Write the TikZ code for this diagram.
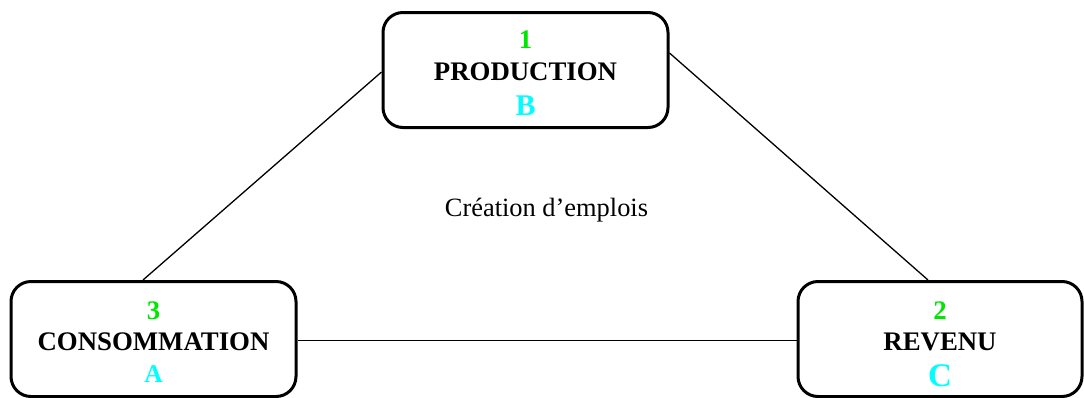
\documentclass[tikz,border=0pt]{standalone}
\usepackage{fontspec}
\setmainfont{Liberation Serif}
\definecolor{numgreen}{RGB}{0,230,0}
\definecolor{lettercyan}{RGB}{0,255,255}
\begin{document}
\begin{tikzpicture}[x=1pt,y=-1pt,
  stagebox/.style={draw,line width=3pt,rounded corners=20pt,minimum width=285pt,minimum height=115pt,inner sep=0pt},
  numlabel/.style={anchor=base,inner sep=0pt,text=numgreen,font=\fontsize{26.8}{30}\selectfont\bfseries},
  namelabel/.style={anchor=base,inner sep=0pt,font=\fontsize{26.8}{30}\selectfont\bfseries},
  letterlabel/.style={anchor=base,inner sep=0pt,text=lettercyan,font=\fontsize{#1}{30}\selectfont\bfseries},
  link/.style={line width=1.3pt}]
  \useasboundingbox (0,0) rectangle (1084,397);

  % the three stages of the cycle
  \node[stagebox] (prod) at (525.5,70) {};
  \node[stagebox] (cons) at (153.5,339) {};
  \node[stagebox,minimum width=284pt] (rev) at (940,339) {};

  % labels inside the boxes
  \node[numlabel] (prodnum) at ([yshift=22pt]prod.center) {1};
  \node[namelabel] (prodname) at ([yshift=-10pt]prod.center) {PRODUCTION};
  \node[letterlabel=30] (prodletter) at ([yshift=-45pt]prod.center) {B};

  \node[numlabel] (consnum) at ([yshift=20pt]cons.center) {3};
  \node[namelabel] (consname) at ([yshift=-11.5pt]cons.center) {CONSOMMATION};
  \node[letterlabel=25.5] (consletter) at ([yshift=-43.5pt]cons.center) {A};

  \node[numlabel] (revnum) at ([yshift=20pt]rev.center) {2};
  \node[namelabel] (revname) at ([yshift=-11.5pt]rev.center) {REVENU};
  \node[letterlabel=33] (revletter) at ([yshift=-47pt]rev.center) {C};

  % centre caption
  \node[inner sep=0pt,font=\fontsize{26.4}{30}\selectfont] (caption) at (546.5,210) {Création d’emplois};

  % connectors
  \draw[link] ([yshift=-2pt]prod.west) -- ([xshift=-10.5pt]cons.north);
  \draw[link] ([yshift=17pt]prod.east) -- ([xshift=-12pt]rev.north);
  \draw[link] ([yshift=-1.5pt]cons.east) -- ([yshift=-1.5pt]rev.west);
\end{tikzpicture}
\end{document}
